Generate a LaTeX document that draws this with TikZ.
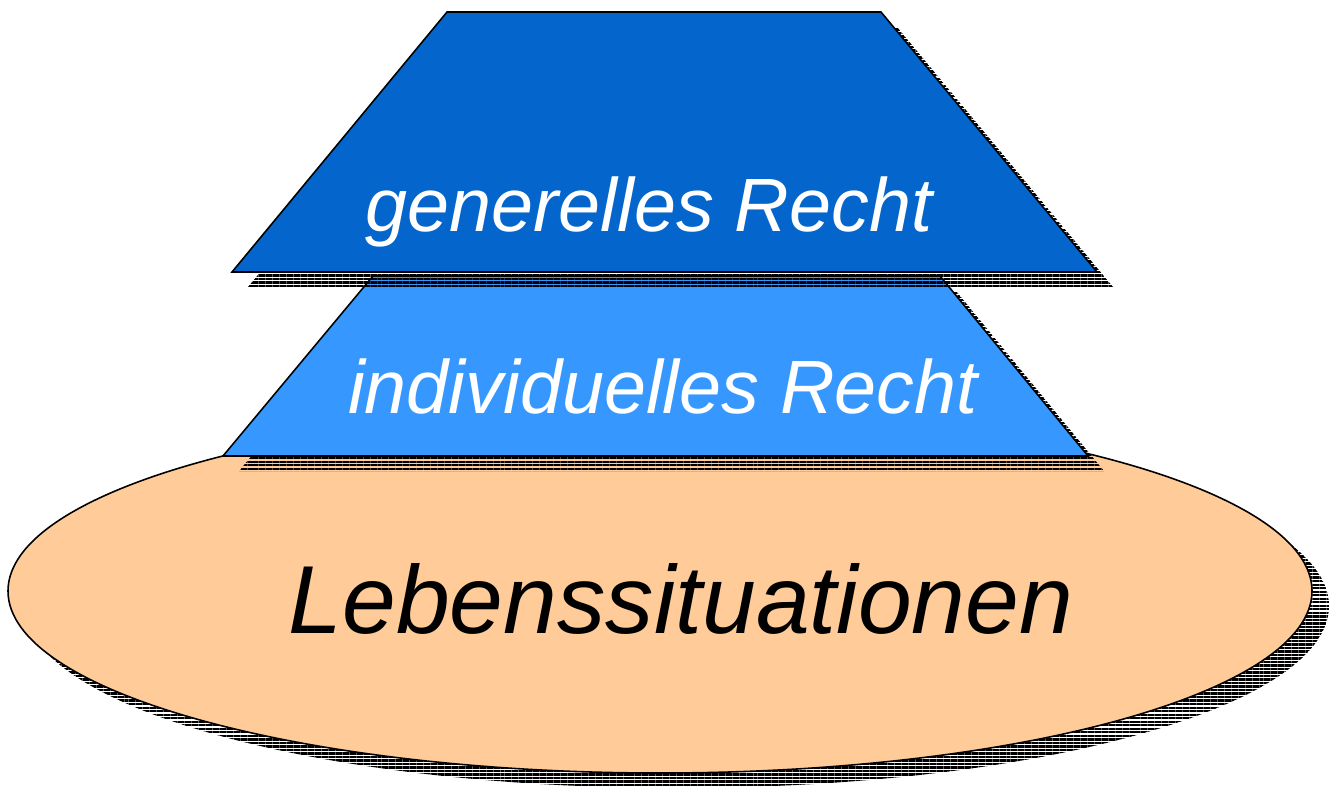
\documentclass[tikz,border=0pt]{standalone}
\usepackage{fontspec}
\setsansfont{Liberation Sans}
\usetikzlibrary{patterns.meta}
\definecolor{rechtdark}{RGB}{4,102,204}
\definecolor{rechtlight}{RGB}{54,152,255}
\definecolor{lebenpeach}{RGB}{255,204,153}
\tikzstyle{shadowlines} = [pattern={Lines[angle=0,distance=2pt,line width=1.35pt]},pattern color=black]
\tikzstyle{outline} = [draw=black,line width=0.9pt,line join=miter]
\begin{document}
\begin{tikzpicture}[x=0.02cm,y=-0.02cm]
    \tikzstyle{label} = [font=\sffamily\itshape,inner sep=0pt,anchor=base]
    \useasboundingbox (0,0) rectangle (1342,785);

    % ground: ellipse with its striped shadow
    \fill[shadowlines] (677,606) ellipse (652 and 182);
    \filldraw[outline,fill=lebenpeach] (660,591) ellipse (652 and 182);
    \node[label,font=\sffamily\itshape\fontsize{55}{55}\selectfont] (leben) at (681,633) {Lebenssituationen};

    % lower layer
    \fill[shadowlines,shift={(16,15)}] (373,276) -- (940,276) -- (1088,456) -- (223,456) -- cycle;
    \filldraw[outline,fill=rechtlight] (373,276) -- (940,276) -- (1088,456) -- (223,456) -- cycle;
    \node[label,text=white,font=\sffamily\itshape\fontsize{43}{43}\selectfont] (indiv) at (663,413) {individuelles Recht};

    % upper layer
    \fill[shadowlines,shift={(16,15)}] (447,12) -- (881,12) -- (1097,272) -- (232,272) -- cycle;
    \filldraw[outline,fill=rechtdark] (447,12) -- (881,12) -- (1097,272) -- (232,272) -- cycle;
    \node[label,text=white,font=\sffamily\itshape\fontsize{43}{43}\selectfont] (gener) at (649,231) {generelles Recht};
\end{tikzpicture}
\end{document}
